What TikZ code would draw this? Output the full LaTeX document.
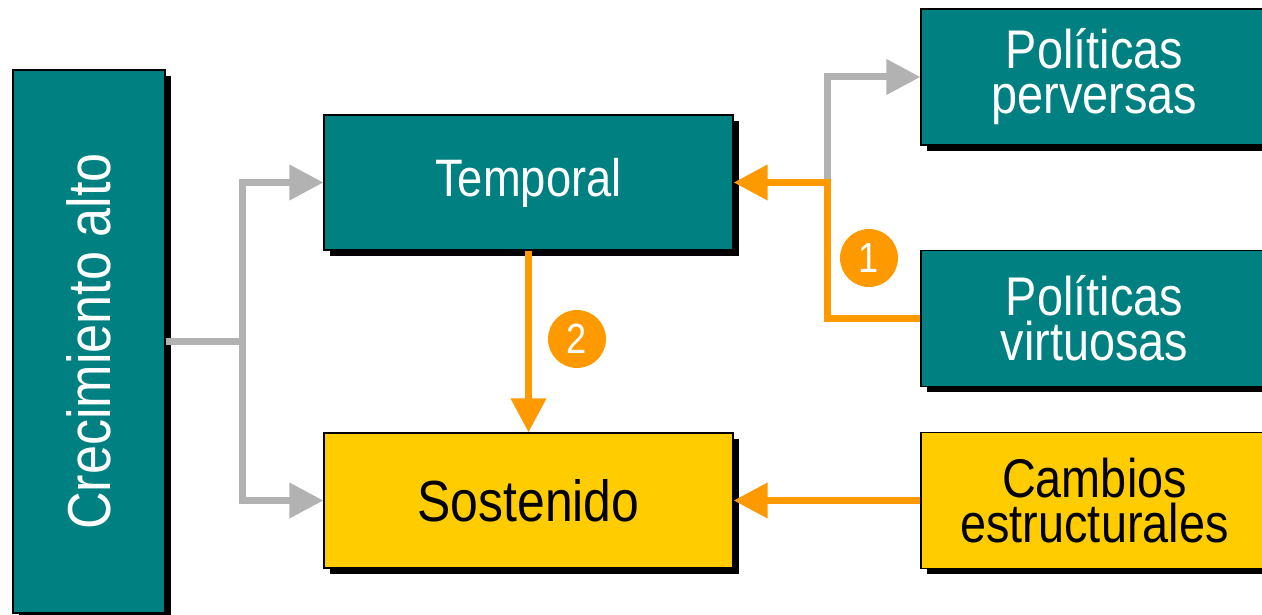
\documentclass[tikz,border=0pt]{standalone}
\usepackage{fontspec}
\setmainfont{Liberation Sans}[FakeStretch=0.86]
\usetikzlibrary{arrows.meta,shadows,positioning}
\definecolor{tealbg}{HTML}{008080}
\definecolor{goldbg}{HTML}{FFCC00}
\definecolor{orangeln}{HTML}{FF9900}
\definecolor{grayln}{HTML}{B2B2B2}
\newcommand\boxfont{\fontsize{30}{25}\selectfont}
\newcommand\sidefont{\fontsize{31}{25.5}\selectfont}

\begin{document}
\begin{tikzpicture}
    [x=0.02cm, y=-0.02cm,
    >={Triangle[length=0.68cm, width=0.68cm]},
    box/.style={draw=black, line width=0.7pt, inner sep=0pt, align=center,
        drop shadow={shadow xshift=0.12cm, shadow yshift=-0.12cm, fill=black, opacity=1}},
    tealbox/.style={box, fill=tealbg, text=white},
    goldbox/.style={box, fill=goldbg, text=black},
    midbox/.style={minimum width=8.18cm, minimum height=2.7cm, font=\boxfont},
    sidebox/.style={minimum width=6.94cm, minimum height=2.72cm, font=\sidefont},
    grayline/.style={grayln, line width=0.14cm},
    orangeline/.style={orangeln, line width=0.14cm},
    num/.style={circle, fill=orangeln, text=white, minimum size=1.16cm, inner sep=0pt,
        font=\fontsize{24}{24}\selectfont}]
    \useasboundingbox (0,0) rectangle (1262,615);

    % boxes
    \node[tealbox, minimum width=3.04cm, minimum height=10.86cm, font=\fontsize{34.5}{34.5}\selectfont]
        (crec) at (89,341.5) {\rotatebox{90}{Crecimiento alto}};
    \node[tealbox, midbox] (temp) at (528.5,182.5) {Temporal};
    \node[goldbox, midbox, font=\fontsize{33}{33}\selectfont] (sost) at (528.5,500.5) {Sostenido};
    \node[tealbox, sidebox] (perv) at (1094.5,77) {Políticas\\perversas};
    \node[tealbox, sidebox] (virt) at (1094.5,318.5) {Políticas\\virtuosas};
    \node[goldbox, sidebox] (camb) at (1094.5,500.5) {Cambios\\estructurales};

    % branch points
    \coordinate (jl) at (242,341.5);
    \coordinate (jr) at (827,182.5);

    % gray links
    \draw[grayline] (crec) -- (jl);
    \draw[grayline, ->] (jl) |- (temp);
    \draw[grayline, ->] (jl) |- (sost);
    \draw[grayline, ->] (jr) |- (perv);

    % orange links
    \draw[orangeline, ->] (virt) -| (jr) -- (temp);
    \draw[orangeline, ->] (temp) -- (sost);
    \draw[orangeline, ->] (camb) -- (sost);

    \node[num] (n1) at (869,258) {1};
    \node[num] (n2) at (577,339) {2};
\end{tikzpicture}
\end{document}
